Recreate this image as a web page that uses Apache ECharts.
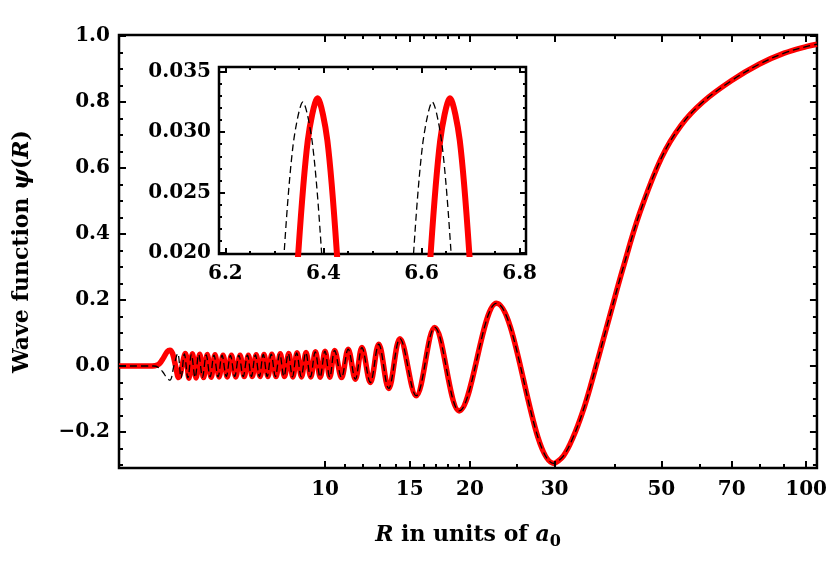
<!DOCTYPE html>
<html>
<head>
<meta charset="utf-8">
<title>Wave function</title>
<script src="https://cdn.jsdelivr.net/npm/echarts@6/dist/echarts.min.js"></script>
<style>
  html, body { margin: 0; padding: 0; background: #fff; }
  #chart { width: 830px; height: 562px; }
</style>
</head>
<body>
<div id="chart"></div>
<script>
// red curve: R (a0) and psi at the extrema / sample points
var redR = [3.73, 4.30, 4.43, 4.52, 4.62, 4.70, 4.76, 4.82, 4.89, 4.96,
  5.125, 5.213, 5.301, 5.395, 5.489, 5.590, 5.690, 5.798, 5.906, 6.022,
  6.138, 6.263, 6.388, 6.523, 6.658, 6.792, 6.928, 7.059, 7.193, 7.329,
  7.467, 7.608, 7.752, 7.909, 8.070, 8.236, 8.405, 8.574, 8.746, 8.936,
  9.131, 9.339, 9.551, 9.773, 10.00, 10.23, 10.47, 10.82, 11.17, 11.56,
  11.93, 12.42, 12.93, 13.56, 14.31, 15.47, 16.9, 19.0, 22.7, 29.9,
  31.3, 32.8, 34.3, 35.8, 37.3, 39.2, 41.5, 45.0, 50.0, 55.0,
  61.0, 70.0, 80.0, 90.0, 100.0, 105.3];
var redPsi = [0, 0, 0.001, 0.006, 0.026, 0.044, 0.048, 0.038, 0.0, -0.035,
  0.038, -0.037, 0.037, -0.036, 0.036, -0.035, 0.035, -0.034, 0.034, -0.033,
  0.033, -0.033, 0.033, -0.033, 0.033, -0.032, 0.033, -0.032, 0.034, -0.032,
  0.035, -0.032, 0.036, -0.032, 0.037, -0.032, 0.038, -0.033, 0.040, -0.033,
  0.041, -0.033, 0.043, -0.034, 0.045, -0.034, 0.047, -0.035, 0.051, -0.040,
  0.056, -0.050, 0.066, -0.068, 0.083, -0.090, 0.117, -0.136, 0.190, -0.295,
  -0.272, -0.215, -0.140, -0.050, 0.045, 0.160, 0.290, 0.460, 0.630, 0.730,
  0.800, 0.865, 0.915, 0.948, 0.968, 0.975];

// dashed curve where it differs from the red one (beyond ~10.5 they coincide)
var blackR = [3.73, 4.40, 4.50, 4.60, 4.68, 4.76, 4.85, 4.94, 5.02, 5.10,
  5.188, 5.275, 5.369, 5.462, 5.562, 5.662, 5.770, 5.877, 5.993, 6.108,
  6.233, 6.358, 6.490, 6.622, 6.759, 6.898, 7.030, 7.165, 7.302, 7.441,
  7.583, 7.728, 7.886, 8.048, 8.215, 8.386, 8.556, 8.730, 8.922, 9.118,
  9.327, 9.541, 9.765, 9.994, 10.228, 10.467];
var blackPsi = [0, 0, -0.004, -0.018, -0.034, -0.043, 0.0, 0.038, -0.036, 0.037,
  -0.036, 0.036, -0.035, 0.035, -0.034, 0.034, -0.033, 0.033, -0.033, 0.033,
  -0.032, 0.0325, -0.032, 0.0325, -0.032, 0.033, -0.032, 0.034, -0.032, 0.035,
  -0.032, 0.036, -0.032, 0.037, -0.032, 0.038, -0.033, 0.040, -0.033, 0.041,
  -0.033, 0.043, -0.034, 0.045, -0.034, 0.047];

// inset: the two peaks near R = 6.4 and 6.65
var insetRedR = [6.253, 6.328, 6.348, 6.368, 6.388, 6.408, 6.428, 6.448, 6.523,
  6.598, 6.618, 6.638, 6.658, 6.678, 6.698, 6.718, 6.793];
var insetRedPsi = [-0.0328, 0.0057, 0.0196, 0.0293, 0.0328, 0.0293, 0.0196, 0.0057, -0.0328,
  0.0057, 0.0196, 0.0293, 0.0328, 0.0293, 0.0196, 0.0057, -0.0328];
var insetBlackR = [6.226, 6.298, 6.318, 6.338, 6.358, 6.378, 6.398, 6.418, 6.490,
  6.562, 6.582, 6.602, 6.622, 6.642, 6.662, 6.682, 6.754];
var insetBlackPsi = [-0.0325, 0.0046, 0.0189, 0.0289, 0.0325, 0.0289, 0.0189, 0.0046, -0.0325,
  0.0046, 0.0189, 0.0289, 0.0325, 0.0289, 0.0189, 0.0046, -0.0325];

// ticks
var xLabels = [10, 15, 20, 30, 50, 70, 100];
var xMinor = [11, 12, 13, 14, 16, 17, 18, 19, 25, 40, 60, 80, 90];
var yLabels = [-0.2, 0, 0.2, 0.4, 0.6, 0.8, 1.0];
var yMinor = [-0.3, -0.25, -0.15, -0.1, -0.05, 0.05, 0.1, 0.15, 0.25, 0.3, 0.35,
  0.45, 0.5, 0.55, 0.65, 0.7, 0.75, 0.85, 0.9, 0.95];
var insetXLabels = [6.2, 6.4, 6.6, 6.8];
var insetXMinor = [6.25, 6.3, 6.35, 6.45, 6.5, 6.55, 6.65, 6.7, 6.75];
var insetYLabels = [0.020, 0.025, 0.030, 0.035];
var insetYMinor = [0.021, 0.022, 0.023, 0.024, 0.026, 0.027, 0.028, 0.029,
  0.031, 0.032, 0.033, 0.034];

var SERIF = 'DejaVu Serif';
var tickFont = { fontFamily: SERIF, fontWeight: 'bold', fontSize: 20, color: '#000' };

function pairs(xs, ys) {
  return xs.map(function (x, i) { return [x, ys[i]]; });
}
var tail = redR.findIndex(function (r) { return r > 10.5; });
var blackData = pairs(blackR, blackPsi).concat(pairs(redR.slice(tail), redPsi.slice(tail)));

function fmtY(v) {
  return v < 0 ? '\u2212' + Math.abs(v).toFixed(1) : v.toFixed(1);
}

// one axis = one set of inward ticks (labels only on the bottom / left ones)
function frameAxis(o) {
  var a = {
    type: o.type, gridIndex: o.grid, position: o.pos,
    min: o.min, max: o.max,
    axisLine: { show: false, onZero: false },
    splitLine: { show: false },
    axisTick: { show: true, inside: true, length: o.len, customValues: o.ticks,
      lineStyle: { color: '#000', width: 2 } },
    axisLabel: o.labels ? Object.assign({ customValues: o.labels, formatter: o.fmt, margin: o.margin }, tickFont)
      : { show: false },
    z: 5
  };
  if (o.type === 'log') a.logBase = 10;
  if (o.name) {
    a.name = o.name;
    a.nameLocation = 'middle';
    a.nameGap = o.nameGap;
    a.nameTextStyle = o.nameStyle;
  }
  return a;
}

var nameStyle = {
  fontFamily: SERIF, fontWeight: 'bold', fontSize: 22, color: '#000', lineHeight: 29,
  rich: {
    i: { fontFamily: SERIF, fontWeight: 'bold', fontStyle: 'italic', fontSize: 22, lineHeight: 29 },
    s: { fontFamily: SERIF, fontWeight: 'bold', fontSize: 16, lineHeight: 16, verticalAlign: 'bottom' }
  }
};

var MX = { type: 'log', grid: 0, min: 3.73, max: 105.3 };
var MY = { type: 'value', grid: 0, min: -0.309, max: 1.003 };
var IX = { type: 'value', grid: 1, min: 6.187, max: 6.813 };
var IY = { type: 'value', grid: 1, min: 0.0199, max: 0.0354 };

function ext(base, more) { return Object.assign({}, base, more); }

var option = {
  animation: false,
  backgroundColor: '#fff',
  grid: [
    { left: 117, top: 35, right: 8, bottom: 94, show: true, borderColor: '#000', borderWidth: 2.5, z: 1 },
    { left: 219, top: 67, width: 307, height: 187, show: true, backgroundColor: '#fff',
      borderColor: '#000', borderWidth: 2.5, z: 4 }
  ],
  xAxis: [
    frameAxis(ext(MX, { pos: 'bottom', ticks: xLabels, len: 7, labels: xLabels, margin: 12,
      fmt: function (v) { return String(Math.round(v)); },
      name: '{i|R} in units of {i|a}{s|0}', nameGap: 53, nameStyle: nameStyle })),
    frameAxis(ext(MX, { pos: 'bottom', ticks: xMinor, len: 4 })),
    frameAxis(ext(MX, { pos: 'top', ticks: xLabels, len: 7 })),
    frameAxis(ext(MX, { pos: 'top', ticks: xMinor, len: 4 })),
    frameAxis(ext(IX, { pos: 'bottom', ticks: insetXLabels, len: 6, labels: insetXLabels, margin: 10,
      fmt: function (v) { return v.toFixed(1); } })),
    frameAxis(ext(IX, { pos: 'bottom', ticks: insetXMinor, len: 3 })),
    frameAxis(ext(IX, { pos: 'top', ticks: insetXLabels, len: 6 })),
    frameAxis(ext(IX, { pos: 'top', ticks: insetXMinor, len: 3 }))
  ],
  yAxis: [
    frameAxis(ext(MY, { pos: 'left', ticks: yLabels, len: 7, labels: yLabels, margin: 9, fmt: fmtY,
      name: 'Wave function {i|\u03c8}({i|R})', nameGap: 82, nameStyle: nameStyle })),
    frameAxis(ext(MY, { pos: 'left', ticks: yMinor, len: 4 })),
    frameAxis(ext(MY, { pos: 'right', ticks: yLabels, len: 7 })),
    frameAxis(ext(MY, { pos: 'right', ticks: yMinor, len: 4 })),
    frameAxis(ext(IY, { pos: 'left', ticks: insetYLabels, len: 6, labels: insetYLabels, margin: 8,
      fmt: function (v) { return v.toFixed(3); } })),
    frameAxis(ext(IY, { pos: 'left', ticks: insetYMinor, len: 3 })),
    frameAxis(ext(IY, { pos: 'right', ticks: insetYLabels, len: 6 })),
    frameAxis(ext(IY, { pos: 'right', ticks: insetYMinor, len: 3 }))
  ],
  series: [
    { type: 'line', xAxisIndex: 0, yAxisIndex: 0, data: pairs(redR, redPsi),
      symbol: 'none', smooth: 0.36, z: 2,
      lineStyle: { color: '#ff0000', width: 5.5 } },
    { type: 'line', xAxisIndex: 0, yAxisIndex: 0, data: blackData,
      symbol: 'none', smooth: 0.36, z: 3,
      lineStyle: { color: '#000', width: 1.3, type: [7, 4] } },
    { type: 'line', xAxisIndex: 4, yAxisIndex: 4, data: pairs(insetRedR, insetRedPsi),
      symbol: 'none', smooth: 0.3, z: 6,
      lineStyle: { color: '#ff0000', width: 6 } },
    { type: 'line', xAxisIndex: 4, yAxisIndex: 4, data: pairs(insetBlackR, insetBlackPsi),
      symbol: 'none', smooth: 0.3, z: 7,
      lineStyle: { color: '#000', width: 1.3, type: [7, 4] } }
  ]
};

var chart = echarts.init(document.getElementById('chart'));
chart.setOption(option);
</script>
</body>
</html>
